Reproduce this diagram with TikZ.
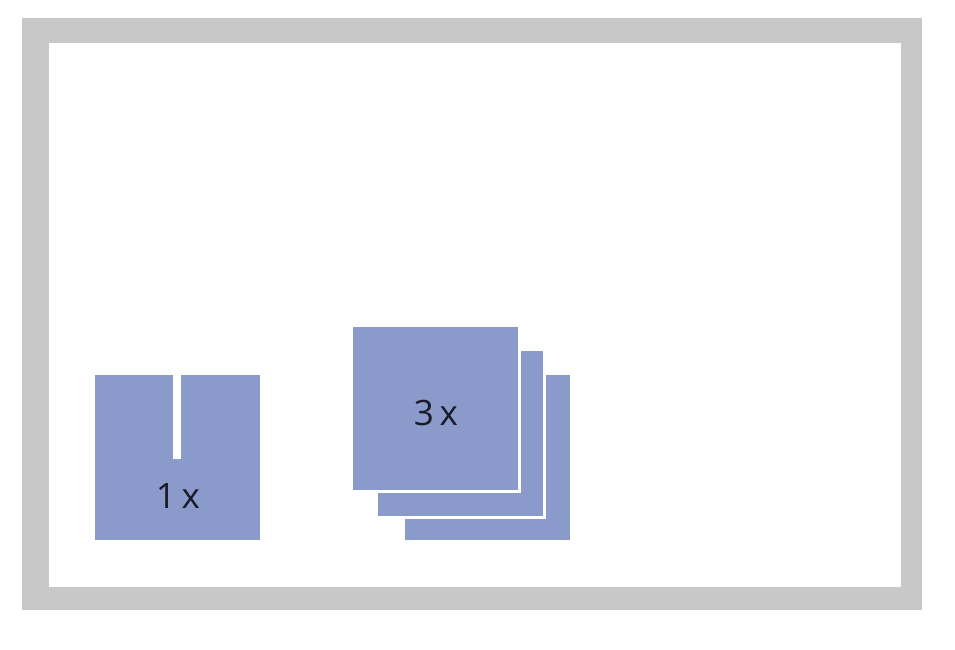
\documentclass[tikz,border=0pt]{standalone}
\usepackage{fontspec}
\setmainfont{Open Sans}
\definecolor{frame}{RGB}{200,200,200}
\definecolor{tile}{RGB}{138,154,202}
\definecolor{ink}{RGB}{25,28,40}
\begin{document}
\begin{tikzpicture}[x=1pt,y=-1pt,
  tilebox/.style={fill=tile,draw=white,line width=3pt,anchor=north west,inner sep=0pt,outer sep=0pt},
  lbl/.style={text=ink,font=\fontsize{35}{40}\selectfont,inner sep=0pt}]
\useasboundingbox (0,0) rectangle (955,650);
\fill[white] (0,0) rectangle (955,650);
\node[fill=frame,anchor=north west,minimum width=900pt,minimum height=592pt,inner sep=0pt] (outer) at (22,18) {};
\node[fill=white,anchor=north west,minimum width=852pt,minimum height=544pt,inner sep=0pt] (inner) at (49,43) {};
% 1x tile with slit
\node[fill=tile,anchor=north west,minimum width=165pt,minimum height=165pt,inner sep=0pt] (single) at (95,375) {};
\node[fill=white,anchor=north west,minimum width=8pt,minimum height=84pt,inner sep=0pt] (slit) at (173,375) {};
\node[lbl] (one) at (178,496) {1\,x};
% 3x stack
\node[tilebox,minimum width=168pt,minimum height=168pt] (back) at (403.5,373.5) {};
\node[tilebox,minimum width=168pt,minimum height=168pt] (mid) at (376.5,349.5) {};
\node[tilebox,minimum width=168pt,minimum height=166pt] (front) at (351.5,325.5) {};
\node[lbl] (three) at (436,413) {3\,x};
\end{tikzpicture}
\end{document}
